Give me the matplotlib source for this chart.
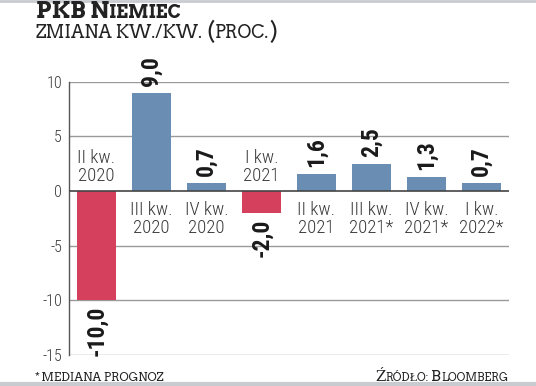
import matplotlib
matplotlib.use("Agg")
import matplotlib.pyplot as plt
from matplotlib.lines import Line2D

# ---- data ----
quarters = ["II kw.\n2020", "III kw.\n2020", "IV kw.\n2020", "I kw.\n2021",
            "II kw.\n2021", "III kw.\n2021*", "IV kw.\n2021*", "I kw.\n2022*"]
values = [-10.0, 9.0, 0.7, -2.0, 1.6, 2.5, 1.3, 0.7]
value_labels = ["-10,0", "9,0", "0,7", "-2,0", "1,6", "2,5", "1,3", "0,7"]
yticks = [-15, -10, -5, 0, 5, 10]

RED = "#D5405D"
BLUE = "#6A8DB4"
COND = ["Roboto Condensed", "DejaVu Sans"]
SLAB = ["Arvo", "DejaVu Serif"]

W, H = 536, 386
fig = plt.figure(figsize=(W / 100, H / 100), dpi=100)
ax = fig.add_axes([69 / W, 1 - 355 / H, (509 - 69) / W, (355 - 81.7) / H])

colors = [RED if v < 0 else BLUE for v in values]
x = list(range(len(values)))
ax.bar(x, values, width=0.71, color=colors, zorder=3)
ax.set_xlim(-0.5, len(values) - 0.5)
ax.set_ylim(-15, 10)
ax.set_yticks(yticks)
ax.set_yticklabels([str(t) for t in yticks], family=COND, fontweight="light",
                   fontsize=11.5, color="#3a3a3a")
ax.tick_params(axis="y", length=0, pad=5)
ax.set_xticks([])
for s in ["top", "right", "bottom"]:
    ax.spines[s].set_visible(False)
ax.spines["left"].set_color("#555555")
ax.spines["left"].set_linewidth(1.0)
for t in yticks:
    if t == 0:
        continue
    ax.axhline(t, color="#9a9a9a", lw=1.0, zorder=1)
ax.axhline(0, color="#444444", lw=1.2, zorder=4)

for xi, v, lab, q in zip(x, values, value_labels, quarters):
    if v >= 0:
        ax.annotate(lab, (xi, v), xytext=(0, 5), textcoords="offset points",
                    rotation=90, ha="center", va="bottom", family=COND,
                    fontweight="bold", fontsize=17, color="#1a1a1a", zorder=5)
        ax.annotate(q, (xi, 0), xytext=(0, -7), textcoords="offset points",
                    ha="center", va="top", family=COND, fontweight="light",
                    fontsize=13.5, color="#3a3a3a", linespacing=1.05, zorder=5)
    else:
        ax.annotate(lab, (xi, v), xytext=(0, -4), textcoords="offset points",
                    rotation=90, ha="center", va="top", family=COND,
                    fontweight="bold", fontsize=17, color="#1a1a1a", zorder=5)
        ax.annotate(q, (xi, 0), xytext=(0, 4), textcoords="offset points",
                    ha="center", va="bottom", family=COND, fontweight="light",
                    fontsize=13.5, color="#3a3a3a", linespacing=1.05, zorder=5)

renderer = fig.canvas.get_renderer()


def small_caps(x0, y0, segments, target_right=None):
    """segments: list of (text, size, weight); drawn at baseline y0 (pixels from top)."""
    def draw(scale):
        arts = []
        cx = x0
        for txt, size, weight in segments:
            t = fig.text(cx / W, 1 - y0 / H, txt, fontsize=size * scale,
                         family=SLAB, fontweight=weight, color="#222222",
                         va="baseline", ha="left")
            bb = t.get_window_extent(renderer)
            cx = bb.x1
            arts.append(t)
        return arts, cx

    arts, right = draw(1.0)
    if target_right is not None:
        scale = (target_right - x0) / (right - x0)
        for a in arts:
            a.remove()
        arts, right = draw(scale)
    return arts


small_caps(36, 18, [("PKB N", 13.5, "bold"), ("IEMIEC", 10.5, "bold")], target_right=181)
small_caps(36, 37.5, [("ZMIANA KW./KW. ", 10, "normal"), ("(", 13, "normal"),
                      ("PROC.", 10, "normal"), (")", 13, "normal")], target_right=277)
small_caps(35, 381, [("* MEDIANA PROGNOZ", 7.5, "normal")], target_right=165)
small_caps(375, 381, [("Ź", 10, "normal"), ("RÓDŁO: ", 7.5, "normal"),
                      ("B", 10, "normal"), ("LOOMBERG", 7.5, "normal")], target_right=509)

fig.add_artist(Line2D([0, 1], [1 - 1 / H, 1 - 1 / H], transform=fig.transFigure,
                      color="#c8ccd0", lw=2))
fig.add_artist(Line2D([0, 1], [2 / H, 2 / H], transform=fig.transFigure,
                      color="#c8ccd0", lw=3))

fig.savefig("out.png", dpi=100)
